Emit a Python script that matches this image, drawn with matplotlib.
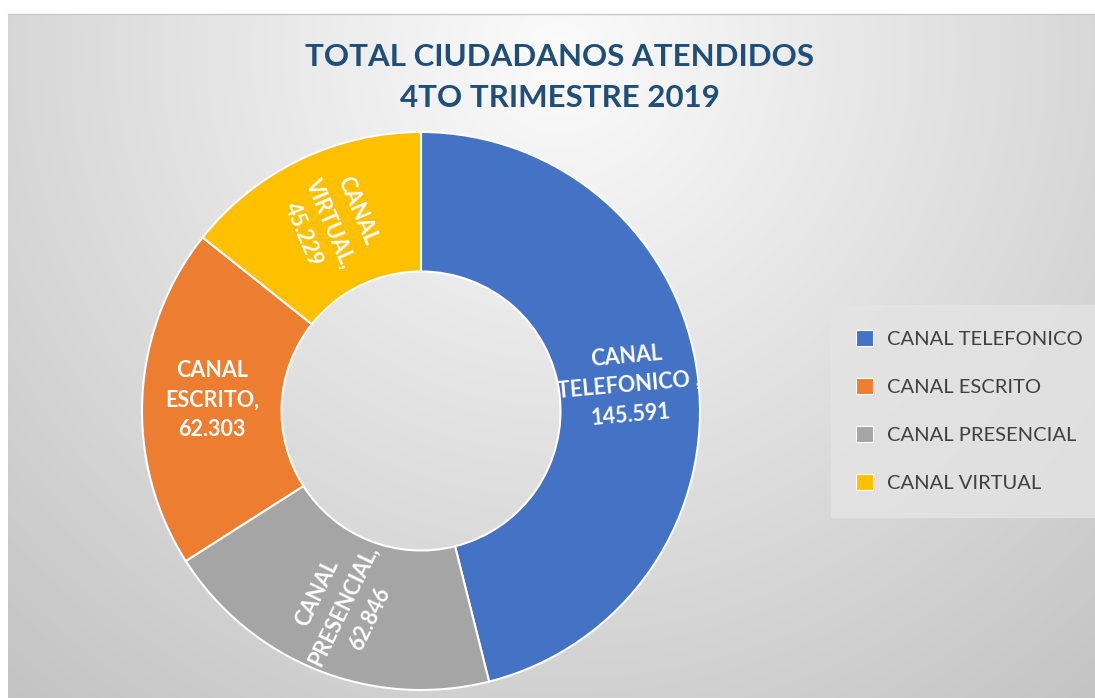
import numpy as np
import matplotlib
matplotlib.use("Agg")
import matplotlib.pyplot as plt
from matplotlib.patches import Patch

# data (order as drawn around the ring, clockwise from the top)
channels = ["CANAL TELEFONICO", "CANAL PRESENCIAL", "CANAL ESCRITO", "CANAL VIRTUAL"]
attended = [145591, 62846, 62303, 45229]
label_lines = [["CANAL", "TELEFONICO ,"], ["CANAL", "PRESENCIAL,"],
               ["CANAL", "ESCRITO,"], ["CANAL", "VIRTUAL,"]]
legend_order = ["CANAL TELEFONICO", "CANAL ESCRITO", "CANAL PRESENCIAL", "CANAL VIRTUAL"]

colors = {"CANAL TELEFONICO": "#4472C4", "CANAL ESCRITO": "#ED7D31",
          "CANAL PRESENCIAL": "#A5A5A5", "CANAL VIRTUAL": "#FFC000"}
label_rot = [5, 64, 0, -67]

plt.rcParams["font.family"] = ["Lato", "DejaVu Sans"]

W, H = 1095, 698
fig = plt.figure(figsize=(W / 100, H / 100), dpi=100)
fig.patch.set_facecolor("white")

# background with soft radial gradient
ax_bg = fig.add_axes([8 / W, 0, 1 - 8 / W, (H - 14) / H])
yy, xx = np.mgrid[0:H - 14, 0:W - 8]
d = np.sqrt((xx - 550) ** 2 + (yy - 40) ** 2) / 850.0
shade = 0.985 - 0.22 * np.clip(d, 0, 1.2)
ax_bg.imshow(np.dstack([shade] * 3), aspect="auto", extent=(0, 1, 0, 1))
ax_bg.axis("off")
fig.add_artist(plt.Line2D([8 / W, 1], [(H - 14) / H] * 2, color="#C8C8C8", lw=1))

# donut
cx, cy, R = 421, 411, 279
ax = fig.add_axes([(cx - R) / W, (H - cy - R) / H, 2 * R / W, 2 * R / H])
wedges, _ = ax.pie(attended, colors=[colors[c] for c in channels], startangle=90,
                   counterclock=False, radius=1,
                   wedgeprops=dict(width=0.5, edgecolor="white", linewidth=1.5))
ax.set_xlim(-1, 1)
ax.set_ylim(-1, 1)
ax.axis("off")

for w, lines, v, rot in zip(wedges, label_lines, attended, label_rot):
    ang = np.deg2rad((w.theta1 + w.theta2) / 2)
    r = 0.75
    txt = "\n".join(lines + [f"{v:,}".replace(",", ".")])
    ax.text(r * np.cos(ang), r * np.sin(ang), txt, ha="center", va="center",
            rotation=rot, rotation_mode="anchor", color="white",
            fontsize=15.5, fontweight="bold", linespacing=1.5)

fig.text(0.511, 0.889, "TOTAL CIUDADANOS ATENDIDOS\n4TO TRIMESTRE 2019",
         ha="center", va="center", fontsize=22.5, fontweight="bold",
         color="#1F4E79", linespacing=1.6)

handles = [Patch(facecolor=colors[c], edgecolor="white", linewidth=0.8) for c in legend_order]
leg = fig.legend(handles, legend_order, loc="center left",
                 bbox_to_anchor=(831 / W, (H - 411) / H), frameon=True,
                 fontsize=14.5, labelspacing=1.5, handlelength=0.85,
                 handleheight=0.85, handletextpad=0.7, borderpad=1.25,
                 fancybox=False, borderaxespad=0)
leg.get_frame().set_facecolor("#E4E4E4")
leg.get_frame().set_edgecolor("#E4E4E4")
for t in leg.get_texts():
    t.set_color("#404040")

fig.savefig("out.png", dpi=100)
